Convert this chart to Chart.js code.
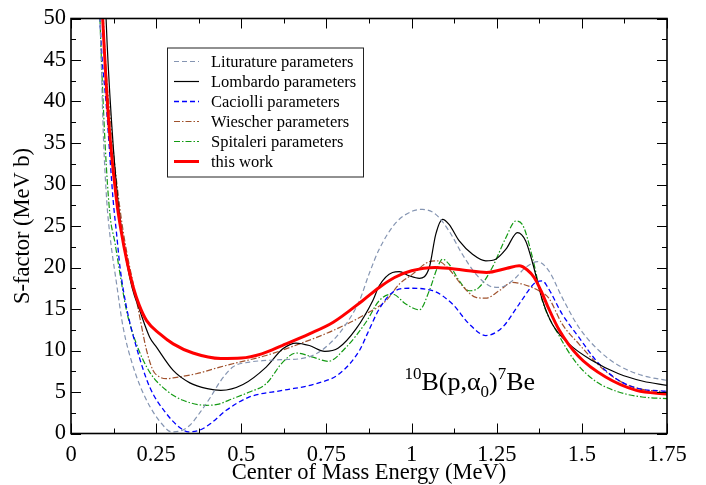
<!DOCTYPE html>
<html>
<head>
<meta charset="utf-8">
<title>S-factor 10B(p,a0)7Be</title>
<script src="https://cdn.jsdelivr.net/npm/chart.js@4.4.0/dist/chart.umd.min.js"></script>
<style>
  html, body { margin: 0; padding: 0; background: #fff; }
</style>
</head>
<body>
<canvas id="sfactor" width="706" height="485"></canvas>
<script>
// axis ticks
const xTicks = [0, 0.25, 0.5, 0.75, 1, 1.25, 1.5, 1.75];
const yTicks = [0, 5, 10, 15, 20, 25, 30, 35, 40, 45, 50];

const labels = ['Liturature parameters', 'Lombardo parameters', 'Caciolli parameters',
                'Wiescher parameters', 'Spitaleri parameters', 'this work'];

// Liturature parameters
const litE = [0.075, 0.085, 0.095, 0.105, 0.114, 0.134, 0.153, 0.183, 0.222, 0.27, 0.295, 0.32, 0.349, 0.38, 0.41, 0.437, 0.475, 0.524, 0.573, 0.622, 0.671, 0.72, 0.769, 0.808, 0.847, 0.875, 0.905, 0.954, 1.003, 1.032, 1.071, 1.11, 1.149, 1.189, 1.228, 1.257, 1.296, 1.335, 1.37, 1.403, 1.442, 1.491, 1.55, 1.608, 1.677, 1.75];
const litS = [57, 50, 36, 28, 24, 18, 12.8, 8.0, 4.0, 1.0, 0.2, 0.3, 1.0, 2.6, 4.4, 6.2, 8.0, 8.6, 8.8, 8.9, 9.0, 9.6, 11.2, 13.2, 16.0, 19.2, 22.2, 25.4, 26.8, 27.0, 26.4, 24.4, 21.6, 19.2, 17.8, 17.6, 18.4, 20.0, 20.7, 19.6, 16.4, 12.8, 10.0, 8.2, 7.0, 6.4];

// Lombardo parameters
const lomE = [0.098, 0.103, 0.12, 0.138, 0.16, 0.18, 0.202, 0.231, 0.251, 0.30, 0.349, 0.40, 0.44, 0.505, 0.573, 0.622, 0.661, 0.70, 0.745, 0.785, 0.837, 0.886, 0.905, 0.944, 0.964, 0.993, 1.023, 1.052, 1.071, 1.091, 1.11, 1.14, 1.179, 1.218, 1.247, 1.277, 1.311, 1.335, 1.355, 1.384, 1.413, 1.462, 1.53, 1.608, 1.68, 1.75];
const lomS = [57, 50, 37, 28, 21.5, 17.5, 14.8, 11.6, 10.4, 7.6, 6.1, 5.4, 5.2, 5.9, 8.0, 10.2, 10.9, 10.6, 9.9, 10.3, 12.6, 16.0, 17.8, 19.4, 19.5, 19.0, 18.7, 20.0, 24.0, 25.8, 25.2, 23.2, 21.6, 20.8, 21.0, 22.2, 24.2, 23.2, 20.6, 16.1, 13.2, 10.8, 8.8, 7.2, 6.3, 5.8];

// Caciolli parameters
const cacE = [0.08, 0.085, 0.105, 0.124, 0.134, 0.144, 0.163, 0.192, 0.231, 0.28, 0.32, 0.345, 0.378, 0.41, 0.456, 0.524, 0.622, 0.72, 0.788, 0.847, 0.87, 0.905, 0.944, 0.993, 1.062, 1.12, 1.169, 1.218, 1.267, 1.316, 1.364, 1.384, 1.40, 1.442, 1.491, 1.55, 1.608, 1.667, 1.75];
const cacS = [57, 50, 38.8, 28, 24, 20, 15.2, 10.4, 5.6, 2.4, 0.7, 0.2, 0.4, 1.2, 2.8, 4.4, 5.2, 6.0, 7.2, 10.0, 12.0, 15.0, 17.0, 17.5, 17.2, 15.6, 13.2, 11.8, 12.8, 15.6, 18.2, 18.4, 17.6, 14.4, 11.6, 8.4, 6.4, 5.4, 5.1];

// Wiescher parameters
const wieE = [0.09, 0.095, 0.12, 0.144, 0.163, 0.183, 0.202, 0.222, 0.241, 0.261, 0.28, 0.30, 0.368, 0.437, 0.475, 0.573, 0.671, 0.769, 0.866, 0.925, 0.964, 1.003, 1.052, 1.075, 1.11, 1.149, 1.189, 1.218, 1.257, 1.296, 1.325, 1.374, 1.403, 1.442, 1.491, 1.55, 1.608, 1.667, 1.75];
const wieS = [57, 50, 36, 27, 22, 18, 14, 10, 7.6, 6.8, 6.6, 6.7, 7.2, 8.0, 8.4, 9.4, 10.8, 12.4, 14.4, 16.0, 18.0, 19.2, 20.7, 20.8, 19.8, 17.8, 16.4, 16.3, 17.2, 18.2, 18.0, 17.2, 16.3, 13.2, 10.8, 8.2, 6.4, 5.4, 5.0];

// Spitaleri parameters
const spiE = [0.08, 0.085, 0.1, 0.114, 0.129, 0.144, 0.163, 0.192, 0.231, 0.28, 0.329, 0.397, 0.43, 0.475, 0.524, 0.573, 0.622, 0.661, 0.71, 0.755, 0.808, 0.866, 0.905, 0.944, 0.983, 1.023, 1.052, 1.076, 1.091, 1.11, 1.14, 1.169, 1.198, 1.237, 1.277, 1.306, 1.325, 1.355, 1.384, 1.433, 1.482, 1.54, 1.608, 1.677, 1.75];
const spiS = [57, 50, 35, 26.5, 23, 19.2, 14.8, 10.8, 7.4, 5.2, 4.0, 3.4, 3.5, 4.2, 5.0, 6.0, 8.6, 9.7, 9.2, 8.7, 10.4, 13.4, 16.0, 16.8, 15.6, 14.9, 17.2, 20.0, 21.0, 20.4, 18.4, 17.2, 17.6, 20.0, 23.6, 25.6, 25.2, 21.2, 16.0, 11.8, 8.6, 6.3, 5.0, 4.4, 4.2];

// this work
const thisE = [0.085, 0.093, 0.11, 0.134, 0.146, 0.165, 0.183, 0.20, 0.222, 0.261, 0.30, 0.358, 0.44, 0.50, 0.56, 0.62, 0.70, 0.77, 0.856, 0.905, 0.95, 1.0, 1.07, 1.15, 1.22, 1.28, 1.316, 1.34, 1.36, 1.38, 1.40, 1.433, 1.49, 1.57, 1.66, 1.75];
const thisS = [57, 50, 38, 28, 24.7, 20.6, 17.6, 15.5, 13.6, 12.0, 10.8, 9.7, 9.05, 9.1, 9.6, 10.6, 12.0, 13.4, 16.0, 17.6, 18.8, 19.6, 20.0, 19.7, 19.4, 19.9, 20.2, 19.7, 18.8, 17.2, 15.3, 12.5, 9.3, 6.8, 5.2, 4.75];

const pts = (xs, ys) => xs.map((v, i) => ({ x: v, y: ys[i] }));
const serif = "'Liberation Serif', 'DejaVu Serif', serif";

function line(label, data, color, width, dash, order) {
  return {
    label, data,
    borderColor: color,
    borderWidth: width,
    borderDash: dash,
    pointRadius: 0,
    fill: false,
    cubicInterpolationMode: 'monotone',
    order
  };
}

// closed frame with inward ticks on all four sides
const frameTicks = {
  id: 'frameTicks',
  afterDatasetsDraw(chart) {
    const { ctx, chartArea: a, scales: { x, y } } = chart;
    const mid = arr => arr.slice(1).map((v, i) => (v + arr[i]) / 2);
    ctx.save();
    ctx.strokeStyle = '#000';
    ctx.lineWidth = 1;
    ctx.beginPath();
    const tickX = (v, len) => {
      const px = Math.round(x.getPixelForValue(v)) + 0.5;
      ctx.moveTo(px, a.bottom); ctx.lineTo(px, a.bottom - len);
      ctx.moveTo(px, a.top); ctx.lineTo(px, a.top + len);
    };
    const tickY = (v, len) => {
      const py = Math.round(y.getPixelForValue(v)) + 0.5;
      ctx.moveTo(a.left, py); ctx.lineTo(a.left + len, py);
      ctx.moveTo(a.right, py); ctx.lineTo(a.right - len, py);
    };
    xTicks.forEach(v => tickX(v, 10));
    mid(xTicks).forEach(v => tickX(v, 5));
    yTicks.forEach(v => tickY(v, 10));
    mid(yTicks).forEach(v => tickY(v, 5));
    ctx.stroke();
    ctx.lineWidth = 1.6;
    ctx.strokeRect(a.left, a.top, a.width, a.height);
    ctx.restore();
  }
};

// boxed legend inside the plot
const boxLegend = {
  id: 'boxLegend',
  afterDraw(chart) {
    const { ctx, chartArea: a } = chart;
    const left = a.left + 96, top = a.top + 29, w = 196, h = 129;
    ctx.save();
    ctx.fillStyle = '#fff';
    ctx.fillRect(left, top, w, h);
    ctx.strokeStyle = '#222';
    ctx.lineWidth = 1;
    ctx.strokeRect(left + 0.5, top + 0.5, w, h);
    ctx.font = '16.5px ' + serif;
    ctx.textBaseline = 'middle';
    chart.data.datasets.forEach((ds, i) => {
      const cy = top + 14 + i * 20;
      ctx.strokeStyle = ds.borderColor;
      ctx.lineWidth = ds.borderWidth;
      ctx.setLineDash(ds.borderDash);
      ctx.beginPath();
      ctx.moveTo(left + 7, cy);
      ctx.lineTo(left + 32, cy);
      ctx.stroke();
      ctx.setLineDash([]);
      ctx.fillStyle = '#000';
      ctx.fillText(ds.label, left + 44, cy + 1);
    });
    ctx.restore();
  }
};

// reaction label 10B(p,a0)7Be
const reaction = {
  id: 'reaction',
  afterDraw(chart) {
    const { ctx, scales: { x, y } } = chart;
    let px = x.getPixelForValue(0.979);
    const base = y.getPixelForValue(5.2);
    const big = '26px ' + serif, small = '17px ' + serif;
    const parts = [
      ['10', small, -11], ['B(p,\u03b1', big, 0], ['0', small, 7],
      [')', big, 0], ['7', small, -11], ['Be', big, 0]
    ];
    ctx.save();
    ctx.fillStyle = '#000';
    ctx.textBaseline = 'alphabetic';
    parts.forEach(([t, f, dy]) => {
      ctx.font = f;
      ctx.fillText(t, px, base + dy);
      px += ctx.measureText(t).width;
    });
    ctx.restore();
  }
};

new Chart(document.getElementById('sfactor'), {
  type: 'line',
  data: {
    datasets: [
      line(labels[0], pts(litE, litS), '#8595b2', 1.2, [5, 3], 1),
      line(labels[1], pts(lomE, lomS), '#000000', 1.2, [], 1),
      line(labels[2], pts(cacE, cacS), '#0000ff', 1.3, [5, 3], 1),
      line(labels[3], pts(wieE, wieS), '#a0522d', 1.2, [6, 2, 1.5, 2], 1),
      line(labels[4], pts(spiE, spiS), '#139a13', 1.2, [6, 2, 1.5, 2], 1),
      line(labels[5], pts(thisE, thisS), '#ff0000', 3, [], 0)
    ]
  },
  options: {
    responsive: false,
    animation: false,
    layout: { padding: { top: 17, right: 39, left: 0, bottom: 0 } },
    plugins: { legend: { display: false }, tooltip: { enabled: false } },
    scales: {
      x: {
        type: 'linear', min: 0, max: 1.75,
        afterFit: s => { s.height = 51.5; },
        afterBuildTicks: s => { s.ticks = xTicks.map(v => ({ value: v })); },
        grid: { display: false, drawTicks: false },
        border: { display: false },
        ticks: { padding: 8, color: '#000', font: { family: serif, size: 22.5 }, callback: v => String(v), maxRotation: 0, autoSkip: false },
        title: { display: true, text: 'Center of Mass Energy (MeV)', color: '#000', font: { family: serif, size: 22.5, lineHeight: 1 }, padding: { top: 0, bottom: 1 } }
      },
      y: {
        type: 'linear', min: 0, max: 50,
        afterFit: s => { s.width = 71; },
        afterBuildTicks: s => { s.ticks = yTicks.map(v => ({ value: v })); },
        grid: { display: false, drawTicks: false },
        border: { display: false },
        ticks: { padding: 5, color: '#000', font: { family: serif, size: 22.5 }, callback: v => String(v), autoSkip: false },
        title: { display: true, text: 'S-factor (MeV b)', color: '#000', font: { family: serif, size: 22.5 }, padding: { top: 10, bottom: 0 } }
      }
    }
  },
  plugins: [frameTicks, boxLegend, reaction]
});
</script>
</body>
</html>
